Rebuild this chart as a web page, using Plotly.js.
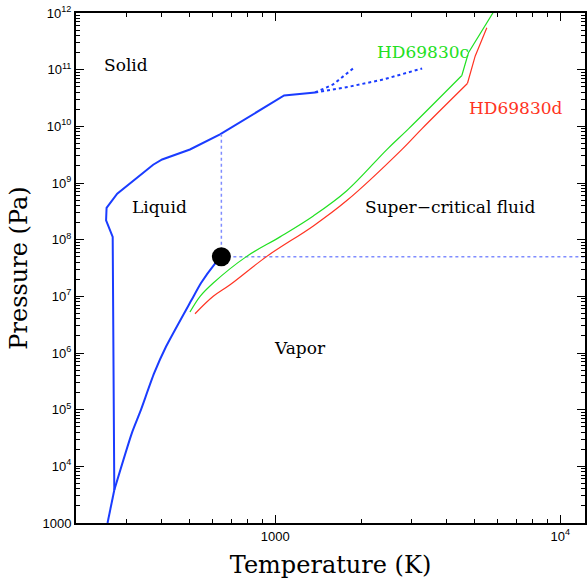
<!DOCTYPE html>
<html><head><meta charset="utf-8">
<script src="https://cdn.plot.ly/plotly-3.0.1.min.js"></script>
<style>html,body{margin:0;padding:0;background:#fff}</style>
</head><body><div id="chart" style="width:587px;height:583px"></div>
<script>
// Phase boundaries (T in K, P in Pa)
const sublimT = [258, 272.5];
const sublimP = [1000, 3830];
const meltT = [272.5, 271, 269, 255, 256, 279, 320, 373, 401, 502, 640, 752, 1074, 1380];
const meltP = [3830, 8.7e6, 1.12e8, 2.19e8, 3.63e8, 6.5e8, 1.15e9, 2.1e9, 2.6e9, 3.9e9, 7.2e9, 1.17e10, 3.5e10, 3.96e10];
const meltExtAT = [1380, 1595, 1875];
const meltExtAP = [3.96e10, 5.48e10, 1.05e11];
const meltExtBT = [1380, 1830, 2389, 3274];
const meltExtBP = [3.96e10, 5.05e10, 6.7e10, 1.05e11];
const vapT = [272.5, 314, 336, 376, 414, 509, 549, 610, 647];
const vapP = [3830, 3.85e4, 9.2e4, 4.4e5, 1.3e6, 8.7e6, 1.72e7, 3.6e7, 5.0e7];
const critT = 647, critP = 5.0e7, critMeltP = 7.3e9, xMax = 12200;
// Planet profiles: smooth lower part and straight upper part
const cLowT = [502, 545, 606, 794, 1039, 1360, 1782, 2462, 2932, 4512];
const cLowP = [5.28e6, 1.0e7, 1.72e7, 5.07e7, 1.12e8, 2.62e8, 7.3e8, 3.89e9, 9.04e9, 7.9e10];
const cHighT = [4512, 4760, 5824];
const cHighP = [7.9e10, 1.99e11, 1.04e12];
const dLowT = [523, 606, 694, 934, 1360, 1782, 2778, 3266, 4720];
const dLowP = [4.93e6, 1.0e7, 1.6e7, 5.07e7, 1.75e8, 4.9e8, 3.89e9, 9.04e9, 5.7e10];
const dHighT = [4720, 5024, 5521];
const dHighP = [5.7e10, 1.73e11, 5.5e11];
// Ticks
const xTickVals = [1000, 10000];
const xTickText = ['1000', '10<sup>4</sup>'];
const yTickVals = [1e3,1e4,1e5,1e6,1e7,1e8,1e9,1e10,1e11,1e12];
const yTickText = ['1000','10<sup>4</sup>','10<sup>5</sup>','10<sup>6</sup>','10<sup>7</sup>','10<sup>8</sup>','10<sup>9</sup>','10<sup>10</sup>','10<sup>11</sup>','10<sup>12</sup>'];
// Region labels
const labels = [
  {t:'Solid', x:299, y:1.23e11, c:'#000'},
  {t:'Liquid', x:394, y:3.83e8, c:'#000'},
  {t:'Super\u2212critical fluid', x:4106, y:3.83e8, c:'#000'},
  {t:'Vapor', x:1222, y:1.24e6, c:'#000'},
  {t:'HD69830c', x:3300, y:2.09e11, c:'#22e022'},
  {t:'HD69830d', x:6998, y:2.15e10, c:'#ff3322'}
];

function minors(lo, hi){ const v=[]; for(let e=lo;e<hi;e++){for(let d=2;d<=9;d++) v.push(d*Math.pow(10,e));} return v; }

const blue = '#1a3cff';
const green = '#22e022', red = '#ff3322';
const traces = [
  {x:sublimT, y:sublimP, mode:'lines', line:{color:blue, width:2}},
  {x:meltT, y:meltP, mode:'lines', line:{color:blue, width:2}},
  {x:vapT, y:vapP, mode:'lines', line:{color:blue, width:2, shape:'spline', smoothing:0.6}},
  {x:meltExtAT, y:meltExtAP, mode:'lines', line:{color:blue, width:2, dash:'dot'}},
  {x:meltExtBT, y:meltExtBP, mode:'lines', line:{color:blue, width:2, dash:'dot'}},
  {x:[critT, critT], y:[critP, critMeltP], mode:'lines', line:{color:'#7f8cff', width:1.5, dash:'dot'}},
  {x:[critT, xMax], y:[critP, critP], mode:'lines', line:{color:'#7f8cff', width:1.5, dash:'dot'}},
  {x:cLowT, y:cLowP, mode:'lines', line:{color:green, width:1.2, shape:'spline', smoothing:1}},
  {x:cHighT, y:cHighP, mode:'lines', line:{color:green, width:1.2}},
  {x:dLowT, y:dLowP, mode:'lines', line:{color:red, width:1.2, shape:'spline', smoothing:1}},
  {x:dHighT, y:dHighP, mode:'lines', line:{color:red, width:1.2}},
  {x:[critT], y:[critP], mode:'markers', marker:{color:'#000', size:19}}
];

const axisCommon = {
  type:'log', showgrid:false, zeroline:false, showline:true, linecolor:'#000', linewidth:2,
  mirror:'allticks', ticks:'inside', ticklen:8, tickwidth:1, tickcolor:'#000',
  tickmode:'array', tickfont:{family:'Liberation Sans, Arial, sans-serif', size:13, color:'#000'}
};

const layout = {
  width:587, height:583, margin:{l:76, r:2, t:13, b:60},
  paper_bgcolor:'#fff', plot_bgcolor:'#fff', showlegend:false,
  xaxis: Object.assign({}, axisCommon, {
    range:[Math.log10(200), Math.log10(xMax)], tickvals:xTickVals, ticktext:xTickText,
    minor:{tickmode:'array', tickvals:minors(2,4), ticks:'inside', ticklen:4, tickcolor:'#000', tickwidth:1},
    title:{text:'Temperature (K)', font:{family:'DejaVu Serif, serif', size:24, color:'#000'}, standoff:14}
  }),
  yaxis: Object.assign({}, axisCommon, {
    range:[3, 12], tickvals:yTickVals, ticktext:yTickText,
    minor:{tickmode:'array', tickvals:minors(3,12), ticks:'inside', ticklen:4, tickcolor:'#000', tickwidth:1},
    title:{text:'Pressure (Pa)', font:{family:'DejaVu Serif, serif', size:24, color:'#000'}, standoff:8}
  }),
  annotations: labels.map(l => ({x:Math.log10(l.x), y:Math.log10(l.y), xref:'x', yref:'y', text:l.t, showarrow:false,
    font:{family:'DejaVu Serif, serif', size:17, color:l.c}}))
};

Plotly.newPlot('chart', traces, layout, {displayModeBar:false, staticPlot:true});
</script></body></html>
